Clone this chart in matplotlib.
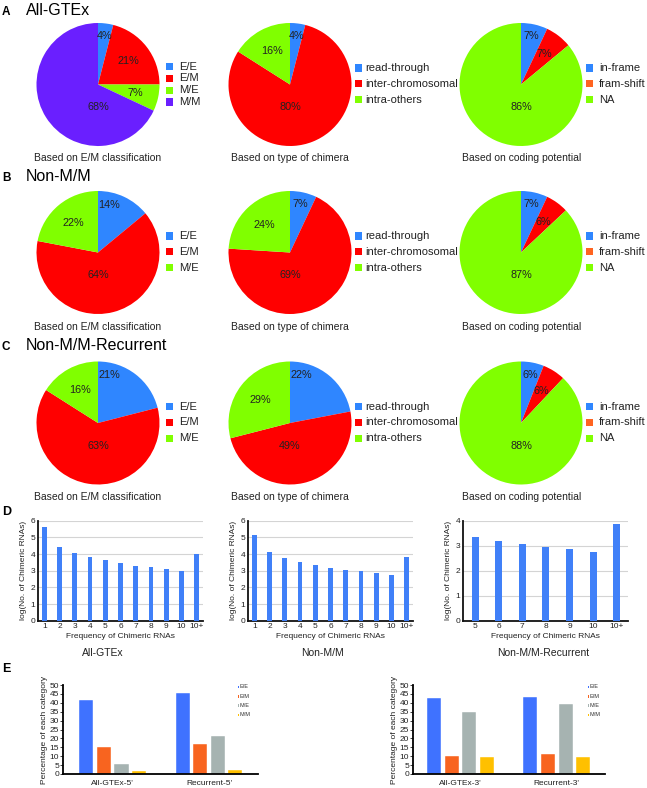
import matplotlib
matplotlib.use('Agg')
import matplotlib.pyplot as plt
from matplotlib.patches import Rectangle
import numpy as np

plt.rcParams['font.family'] = ['Liberation Sans', 'DejaVu Sans']

# ---------------- data ----------------
em_labels_4 = ['E/E', 'E/M', 'M/E', 'M/M']
em_labels_3 = ['E/E', 'E/M', 'M/E']
chim_labels = ['read-through', 'inter-chromosomal', 'intra-others']
coding_labels = ['in-frame', 'fram-shift', 'NA']

em_all = [4, 21, 7, 68]
chim_all = [4, 80, 16]
coding_all = [7, 7, 86]

em_nonmm = [14, 64, 22]
chim_nonmm = [7, 69, 24]
coding_nonmm = [7, 6, 87]

em_rec = [21, 63, 16]
chim_rec = [22, 49, 29]
coding_rec = [6, 6, 88]

freq_all = ['1', '2', '3', '4', '5', '6', '7', '8', '9', '10', '10+']
log_all = [5.65, 4.45, 4.05, 3.82, 3.63, 3.47, 3.31, 3.21, 3.10, 3.01, 4.03]
log_nonmm = [5.13, 4.12, 3.75, 3.52, 3.33, 3.19, 3.06, 2.96, 2.85, 2.75, 3.83]
freq_rec = ['5', '6', '7', '8', '9', '10', '10+']
log_rec = [3.35, 3.19, 3.05, 2.95, 2.85, 2.76, 3.85]

e_cats = ['E/E', 'E/M', 'M/E', 'M/M']
groups5 = ["All-GTEx-5'", "Recurrent-5'"]
pct5 = [[41.6, 45.3], [15.3, 16.8], [5.8, 21.5], [1.5, 2.4]]
groups3 = ["All-GTEx-3'", "Recurrent-3'"]
pct3 = [[42.5, 43.0], [10.0, 11.1], [34.9, 39.2], [9.4, 9.8]]

# ---------------- styles ----------------
BLUE, RED, GREEN, PURPLE, ORANGE = '#2f86ff', '#ff0000', '#80ff00', '#6a1fff', '#ff6420'
pie_cols4 = [BLUE, RED, GREEN, PURPLE]
pie_cols3 = [BLUE, RED, GREEN]
coding_leg_cols = [BLUE, ORANGE, GREEN]
DBAR = '#4080f8'
ECOLS = ['#3f72ff', '#f8641f', '#a6b3b1', '#ffc000']

W, H = 647, 788
fig = plt.figure(figsize=(W / 100, H / 100), dpi=100)


def rect(l, t, r, b):
    return [l / W, 1 - b / H, (r - l) / W, (b - t) / H]


ov = fig.add_axes([0, 0, 1, 1], zorder=10)
ov.set_xlim(0, W)
ov.set_ylim(H, 0)
ov.axis('off')

R = 61.5


def draw_pie(cx, cy, vals, cols):
    ax = fig.add_axes(rect(cx - R, cy - R, cx + R, cy + R))
    wedges, _ = ax.pie(vals, colors=cols, startangle=90, counterclock=False,
                       radius=1, wedgeprops=dict(linewidth=0))
    tot = float(sum(vals))
    for i, (w, v) in enumerate(zip(wedges, vals)):
        frac = v / tot
        mid = np.deg2rad((w.theta1 + w.theta2) / 2)
        if frac >= 0.45:
            x, y = 0.0, -0.37
        elif i == 0:
            a = np.deg2rad(max(np.rad2deg(mid), 77))
            x, y = 0.8 * np.cos(a), 0.8 * np.sin(a)
        else:
            x, y = 0.62 * np.cos(mid), 0.62 * np.sin(mid)
        ax.text(x, y, f'{v}%', ha='center', va='center', fontsize=7.8, color='#222222')
    ax.set_xlim(-1, 1)
    ax.set_ylim(-1, 1)
    ax.axis('off')


def draw_legend(xsq, xtxt, ytop, step, labels, cols):
    for i, (lab, c) in enumerate(zip(labels, cols)):
        y = ytop + i * step
        ov.add_patch(Rectangle((xsq, y - 3.6), 7.2, 7.2, color=c, lw=0))
        ov.text(xtxt, y, lab, fontsize=8, va='center', ha='left', color='#222222')


pie_x = [98, 290, 521]
cap_txt = ['Based on E/M classification', 'Based on type of chimera', 'Based on coding potential']
rows = [
    dict(cy=84.5, cap=158, letter='A', title='All-GTEx', base=14.5,
         data=[(em_all, pie_cols4, em_labels_4), (chim_all, pie_cols3, chim_labels),
               (coding_all, pie_cols3, coding_labels)]),
    dict(cy=252.5, cap=327, letter='B', title='Non-M/M', base=180.5,
         data=[(em_nonmm, pie_cols3, em_labels_3), (chim_nonmm, pie_cols3, chim_labels),
               (coding_nonmm, pie_cols3, coding_labels)]),
    dict(cy=423, cap=497, letter='C', title='Non-M/M-Recurrent', base=350,
         data=[(em_rec, pie_cols3, em_labels_3), (chim_rec, pie_cols3, chim_labels),
               (coding_rec, pie_cols3, coding_labels)]),
]
leg_x = [(165.7, 179), (355, 365.5), (585.7, 599.3)]
for r in rows:
    ov.text(2, r['base'], r['letter'], fontsize=8.5, fontweight='bold', va='baseline', ha='left')
    ov.text(26, r['base'], r['title'], fontsize=11.5, va='baseline', ha='left')
    for j, (vals, cols, labs) in enumerate(r['data']):
        draw_pie(pie_x[j], r['cy'], vals, cols)
        ov.text(pie_x[j] + (1 if j == 2 else 0), r['cap'], cap_txt[j], fontsize=7.5,
                ha='center', va='center', color='#222222')
        lcols = coding_leg_cols if j == 2 else cols
        if len(labs) == 4:
            ytop, step = 66.5, 11.8
        else:
            ytop, step = r['cy'] - 16.5, 15.8
        draw_legend(leg_x[j][0], leg_x[j][1], ytop, step, labs, lcols)

# ---------------- D ----------------
ov.text(2, 515, 'D', fontsize=9, fontweight='bold', va='baseline', ha='left')


def draw_d(l, r, ymax, labels, vals, xl, title, tcx):
    ax = fig.add_axes(rect(l, 520.7, r, 620.7))
    x = np.arange(len(vals))
    ax.bar(x, vals, width=0.3, color=DBAR, zorder=3)
    ax.set_xlim(*xl)
    ax.set_ylim(0, ymax)
    ax.set_yticks(range(0, ymax + 1))
    ax.set_xticks(x)
    ax.set_xticklabels(labels)
    ax.grid(axis='y', color='#d4d4d4', lw=0.8, zorder=0)
    for s in ['top', 'right']:
        ax.spines[s].set_visible(False)
    for s in ['left', 'bottom']:
        ax.spines[s].set_linewidth(1.3)
        ax.spines[s].set_color('#111111')
    ax.tick_params(axis='both', length=0, labelsize=6, pad=2, colors='#222222')
    ax.set_xlabel('Frequency of Chimeric RNAs', fontsize=6, labelpad=1.5, color='#222222')
    ax.set_ylabel('log(No. of Chimeric RNAs)', fontsize=6, labelpad=2.5, color='#222222')
    ov.text(tcx, 652.5, title, fontsize=7.5, ha='center', va='center', color='#222222')


draw_d(38.3, 203.3, 6, freq_all, log_all, (-0.39, 10.43), 'All-GTEx', 103)
draw_d(248.3, 413.3, 6, freq_all, log_nonmm, (-0.39, 10.43), 'Non-M/M', 323)
draw_d(463.3, 628.3, 4, freq_rec, log_rec, (-0.5, 6.49), 'Non-M/M-Recurrent', 543)

# ---------------- E ----------------
ov.text(2, 672.5, 'E', fontsize=9, fontweight='bold', va='baseline', ha='left')


def draw_e(l, r, groups, pct, xl, legx):
    ax = fig.add_axes(rect(l, 685, r, 774))
    gx = np.arange(len(groups))
    step = 0.183
    for i, (cat, vals) in enumerate(zip(e_cats, pct)):
        ax.bar(gx + (i - 1.5) * step, vals, width=0.146, color=ECOLS[i],
               edgecolor='white', linewidth=0.3)
        y = 687 + i * 9.3
        ov.add_patch(Rectangle((legx, y - 1.3), 1.6, 2.6, color=ECOLS[i], lw=0))
        ov.text(legx + 2.5, y, cat, fontsize=4, va='center', ha='left', color='#333333')
    ax.set_xlim(*xl)
    ax.set_ylim(0, 50)
    ax.set_yticks(range(0, 51, 5))
    ax.set_xticks(gx)
    ax.set_xticklabels(groups)
    for s in ['top', 'right']:
        ax.spines[s].set_visible(False)
    ax.spines['left'].set_linewidth(1.3)
    ax.spines['bottom'].set_linewidth(1.3)
    ax.tick_params(axis='y', length=2, width=0.6, labelsize=6, pad=1, colors='#222222')
    ax.tick_params(axis='x', length=0, labelsize=6, pad=4, colors='#222222')
    ax.set_ylabel('Percentage of each category', fontsize=6, labelpad=1.5, color='#222222')


draw_e(63.3, 258.3, groups5, pct5, (-0.513, 1.512), 237.5)
draw_e(413.3, 605, groups3, pct3, (-0.49, 1.50), 587.5)

fig.savefig('out.png', dpi=100)
